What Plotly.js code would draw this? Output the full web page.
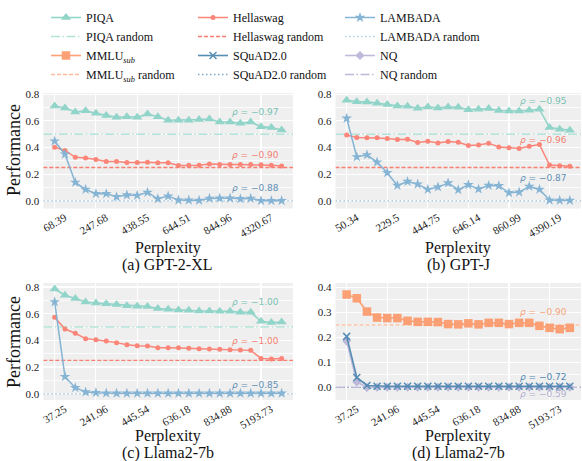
<!DOCTYPE html>
<html>
<head>
<meta charset="utf-8">
<script src="https://cdn.plot.ly/plotly-3.0.1.min.js"></script>
<style>html,body{margin:0;padding:0;background:#fff;}#chart{width:582px;height:461px;}</style>
</head>
<body>
<div id="chart"></div>
<script>
// ---------- data ----------
const pointIndex = [0,1,2,3,4,5,6,7,8,9,10,11,12,13,14,15,16,17,18,19,20,21,22];
const tickIndex = [0,4,8,12,16,20];

const ticksGPT2XL = ["68.39","247.68","438.55","644.51","844.96","4320.67"];
const ticksGPTJ   = ["50.34","229.5","444.75","646.14","860.99","4390.19"];
const ticksLlama  = ["37.25","241.96","445.54","636.18","834.88","5193.73"];

const gpt2xlPIQA = [0.712,0.698,0.667,0.677,0.657,0.640,0.627,0.632,0.627,0.652,0.632,0.605,0.605,0.605,0.610,0.615,0.592,0.592,0.582,0.592,0.557,0.550,0.532];
const gpt2xlHella = [0.402,0.378,0.327,0.322,0.310,0.295,0.295,0.287,0.287,0.290,0.285,0.285,0.265,0.267,0.267,0.277,0.272,0.272,0.272,0.272,0.270,0.267,0.262];
const gpt2xlLambada = [0.448,0.350,0.138,0.085,0.053,0.053,0.030,0.043,0.040,0.063,0.015,0.035,0.005,0.005,0.003,0.018,0.020,0.020,0.015,0.018,0.001,0.001,0.001];

const gptjPIQA = [0.755,0.745,0.743,0.733,0.723,0.713,0.710,0.695,0.705,0.698,0.705,0.703,0.685,0.688,0.693,0.678,0.675,0.675,0.680,0.688,0.550,0.538,0.530];
const gptjHella = [0.495,0.475,0.473,0.473,0.468,0.460,0.463,0.438,0.448,0.435,0.445,0.440,0.415,0.420,0.433,0.405,0.398,0.393,0.410,0.423,0.268,0.263,0.260];
const gptjLambada = [0.620,0.330,0.345,0.290,0.210,0.115,0.145,0.125,0.085,0.103,0.133,0.083,0.120,0.088,0.115,0.113,0.060,0.065,0.108,0.085,0.005,0.003,0.003];

const llamaPIQA = [0.785,0.738,0.713,0.688,0.680,0.675,0.668,0.660,0.655,0.653,0.638,0.633,0.628,0.625,0.620,0.620,0.618,0.618,0.610,0.610,0.543,0.533,0.538];
const llamaHella = [0.573,0.485,0.453,0.413,0.405,0.395,0.383,0.368,0.360,0.358,0.345,0.345,0.345,0.340,0.338,0.335,0.333,0.330,0.328,0.325,0.265,0.260,0.265];
const llamaLambada = [0.688,0.128,0.045,0.013,0.008,0.004,0.003,0.003,0.003,0.003,0.003,0.003,0.003,0.003,0.003,0.003,0.003,0.003,0.003,0.003,0.003,0.003,0.003];

const llamaMMLU = [0.371,0.356,0.303,0.279,0.277,0.277,0.266,0.262,0.262,0.261,0.253,0.252,0.256,0.252,0.258,0.258,0.253,0.258,0.258,0.246,0.238,0.233,0.238];
const llamaSQuAD = [0.204,0.040,0.008,0.005,0.005,0.005,0.005,0.005,0.005,0.005,0.005,0.005,0.005,0.005,0.005,0.005,0.005,0.005,0.005,0.005,0.005,0.005,0.005];
const llamaNQ = [0.185,0.022,0.000,0.001,0.001,0.001,0.001,0.001,0.001,0.001,0.001,0.001,0.001,0.001,0.001,0.001,0.001,0.001,0.001,0.001,0.001,0.001,0.001];

const randomPIQA = 0.5, randomHella = 0.25, randomLambada = 0.0;
const randomMMLU = 0.25, randomSQuAD = 0.0, randomNQ = 0.0;

const rhoGPT2XL = [-0.97, -0.90, -0.88];   // PIQA, Hellaswag, LAMBADA
const rhoGPTJ   = [-0.95, -0.96, -0.87];
const rhoLlama  = [-1.00, -1.00, -0.85];
const rhoLlamaQA = [-0.90, -0.72, -0.59]; // MMLU, SQuAD2.0, NQ

const panelCaptions = ["(a) GPT-2-XL", "(b) GPT-J", "(c) Llama2-7b", "(d) Llama2-7b"];

// ---------- styles ----------
const W = 582, H = 461;
const XR = [-1.1, 23.1];
const serif = "Liberation Serif";
const sans = "DejaVu Sans";

const S = {
  PIQA:    {c:'#8dd3c7', txt:'#79c2b3', sym:'triangle-up', ms:9, lw:1.6},
  Hella:   {c:'#fb8072', txt:'#f27f72', sym:'circle', ms:5, lw:1.5},
  Lambada: {c:'#80b1d3', txt:'#5f90b5', sym:'star', ms:8, lw:1.5},
  MMLU:    {c:'#fc9b6e', txt:'#f8a37a', sym:'square', ms:8.5, lw:1.6},
  SQuAD:   {c:'#4f89b2', txt:'#4f89b2', sym:'x-thin-open', ms:7, lw:1.6},
  NQ:      {c:'#bab7d9', txt:'#b2afd2', sym:'diamond', ms:7, lw:1.6}
};
const R = {
  PIQA:    {c:'#b4e3d9', dash:'9px,2.5px,1.5px,2.5px', lw:1.4},
  Hella:   {c:'#f87e70', dash:'4px,2px', lw:1.3},
  Lambada: {c:'#abcde6', dash:'1.5px,2.5px', lw:1.4},
  MMLU:    {c:'#fdbb98', dash:'4px,2px', lw:1.3},
  SQuAD:   {c:'#7ea7c8', dash:'1.5px,2.5px', lw:1.3},
  NQ:      {c:'#bcb9d8', dash:'9px,2.5px,1.5px,2.5px', lw:1.3}
};

const traces = [];
function series(key, name, y, ax, legend, first, rank) {
  const s = S[key];
  traces.push({
    type:'scatter', mode:'lines+markers', x: pointIndex, y: y,
    xaxis: 'x'+ax, yaxis: 'y'+ax, name: name, legendgroup: key,
    legend: legend, showlegend: first, legendrank: rank,
    line: {color: s.c, width: s.lw}, opacity: 0.95,
    marker: {symbol: s.sym, size: s.ms, color: s.c, line:{color:s.c, width: key==='SQuAD'?1.5:0}},
    hoverinfo: 'skip'
  });
}
function baseline(key, name, v, ax, legend, first, rank) {
  const r = R[key];
  traces.push({
    type:'scatter', mode:'lines', x: XR, y: [v, v],
    xaxis: 'x'+ax, yaxis: 'y'+ax, name: name, legendgroup: key+'r',
    legend: legend, showlegend: first, legendrank: rank,
    line: {color: r.c, width: r.lw, dash: r.dash}, hoverinfo:'skip'
  });
}

const mmluName = "MMLU<sub><i>sub</i></sub>";
baseline('PIQA', 'PIQA random', randomPIQA, '', 'legend', true, 2);
baseline('Hella', 'Hellaswag random', randomHella, '', 'legend2', true, 2);
baseline('Lambada', 'LAMBADA random', randomLambada, '', 'legend3', true, 2);
baseline('PIQA', 'PIQA random', randomPIQA, '2', 'legend', false, 2);
baseline('Hella', 'Hellaswag random', randomHella, '2', 'legend2', false, 2);
baseline('Lambada', 'LAMBADA random', randomLambada, '2', 'legend3', false, 2);
baseline('PIQA', 'PIQA random', randomPIQA, '3', 'legend', false, 2);
baseline('Hella', 'Hellaswag random', randomHella, '3', 'legend2', false, 2);
baseline('Lambada', 'LAMBADA random', randomLambada, '3', 'legend3', false, 2);
baseline('MMLU', mmluName+' random', randomMMLU, '4', 'legend', true, 4);
baseline('SQuAD', 'SQuAD2.0 random', randomSQuAD, '4', 'legend2', true, 4);
baseline('NQ', 'NQ random', randomNQ, '4', 'legend3', true, 4);

series('PIQA', 'PIQA', gpt2xlPIQA, '', 'legend', true, 1);
series('Hella', 'Hellaswag', gpt2xlHella, '', 'legend2', true, 1);
series('Lambada', 'LAMBADA', gpt2xlLambada, '', 'legend3', true, 1);
series('PIQA', 'PIQA', gptjPIQA, '2', 'legend', false, 1);
series('Hella', 'Hellaswag', gptjHella, '2', 'legend2', false, 1);
series('Lambada', 'LAMBADA', gptjLambada, '2', 'legend3', false, 1);
series('PIQA', 'PIQA', llamaPIQA, '3', 'legend', false, 1);
series('Hella', 'Hellaswag', llamaHella, '3', 'legend2', false, 1);
series('Lambada', 'LAMBADA', llamaLambada, '3', 'legend3', false, 1);
series('MMLU', mmluName, llamaMMLU, '4', 'legend', true, 3);
series('NQ', 'NQ', llamaNQ, '4', 'legend3', true, 3);
series('SQuAD', 'SQuAD2.0', llamaSQuAD, '4', 'legend2', true, 3);

// ---------- layout ----------
function px2x(a,b){ return [a/W, b/W]; }
function py2y(top,bottom){ return [1-bottom/H, 1-top/H]; }
const colL = px2x(43.3, 293), colR = px2x(335.5, 581);
const rowT = py2y(93, 208.5), rowB = py2y(283, 400);

function xax(dom, ticks, anchor) {
  return {domain: dom, anchor: anchor, range: XR, tickmode:'array', tickvals: tickIndex, ticktext: ticks,
    tickangle: -30, ticklabelshift: 10, showgrid: true, gridcolor:'#ffffff', gridwidth: 1.1, zeroline:false,
    showline:false, ticks:'', tickfont:{family: serif, size: 11, color:'#222222'}, fixedrange:true};
}
function yax(dom, range, dtick, anchor) {
  return {domain: dom, anchor: anchor, range: range, tick0: 0, dtick: dtick, tickformat: '.1f',
    showgrid: true, gridcolor:'#ffffff', gridwidth: 1.1, zeroline:false, showline:false, ticks:'',
    minor: {dtick: dtick/2, tick0: 0, showgrid: true, gridcolor:'#ffffff', gridwidth: 0.8, ticks:''},
    ticklabelstandoff: 3, tickfont:{family: serif, size: 11, color:'#222222'}, fixedrange:true};
}

const annotations = [];
function rho(ax, xv, yv, val, color) {
  annotations.push({xref:'x'+ax, yref:'y'+ax, x: xv, y: yv, xanchor:'right', yanchor:'middle',
    text: '<i>ρ</i> = −' + Math.abs(val).toFixed(2), showarrow:false,
    font:{family: sans, size: 9, color: color}});
}
rho('', 21.9, 0.667, rhoGPT2XL[0], S.PIQA.txt);
rho('', 21.9, 0.343, rhoGPT2XL[1], S.Hella.txt);
rho('', 21.9, 0.098, rhoGPT2XL[2], S.Lambada.txt);
rho('2', 21.9, 0.753, rhoGPTJ[0], S.PIQA.txt);
rho('2', 21.9, 0.460, rhoGPTJ[1], S.Hella.txt);
rho('2', 21.9, 0.173, rhoGPTJ[2], S.Lambada.txt);
rho('3', 21.9, 0.685, rhoLlama[0], S.PIQA.txt);
rho('3', 21.9, 0.395, rhoLlama[1], S.Hella.txt);
rho('3', 21.9, 0.068, rhoLlama[2], S.Lambada.txt);
rho('4', 21.9, 0.302, rhoLlamaQA[0], S.MMLU.txt);
rho('4', 21.9, 0.042, rhoLlamaQA[1], S.SQuAD.txt);
rho('4', 21.9, -0.028, rhoLlamaQA[2], S.NQ.txt);

function paperText(xpx, ypx, text, size, angle) {
  annotations.push({xref:'paper', yref:'paper', x: xpx/W, y: 1-ypx/H, xanchor:'center', yanchor:'middle',
    text: text, showarrow:false, textangle: angle||0, font:{family: serif, size: size, color:'#111111'}});
}
paperText(168, 248, 'Perplexity', 16);
paperText(458, 248, 'Perplexity', 16);
paperText(168, 436, 'Perplexity', 16);
paperText(458, 436, 'Perplexity', 16);
paperText(168, 265, panelCaptions[0], 16);
paperText(458, 265, panelCaptions[1], 16);
paperText(168, 453, panelCaptions[2], 16);
paperText(458, 453, panelCaptions[3], 16);
paperText(14, 150, 'Performance', 18, -90);
paperText(14, 342, 'Performance', 18, -90);

function legendBox(xpx) {
  return {x: xpx/W, y: 1-3/H, xanchor:'left', yanchor:'top', orientation:'v', bgcolor:'rgba(0,0,0,0)',
    font:{family: serif, size: 12, color:'#111111'}, itemwidth: 30, traceorder:'normal', tracegroupgap: 0};
}

const layout = {
  width: W, height: H, margin:{l:0,r:0,t:0,b:0}, paper_bgcolor:'#ffffff', plot_bgcolor:'#efefef',
  font: {family: serif, size: 12, color: '#111111'},
  showlegend: true,
  xaxis: xax(colL, ticksGPT2XL, 'y'), yaxis: yax(rowT, [-0.058, 0.81], 0.2, 'x'),
  xaxis2: xax(colR, ticksGPTJ, 'y2'), yaxis2: yax(rowT, [-0.058, 0.81], 0.2, 'x2'),
  xaxis3: xax(colL, ticksLlama, 'y3'), yaxis3: yax(rowB, [-0.047, 0.83], 0.2, 'x3'),
  xaxis4: xax(colR, ticksLlama, 'y4'), yaxis4: yax(rowB, [-0.05, 0.417], 0.1, 'x4'),
  legend: legendBox(46), legend2: legendBox(193), legend3: legendBox(340),
  annotations: annotations
};

Plotly.newPlot('chart', traces, layout, {staticPlot: true, displayModeBar: false});
</script>
</body>
</html>
